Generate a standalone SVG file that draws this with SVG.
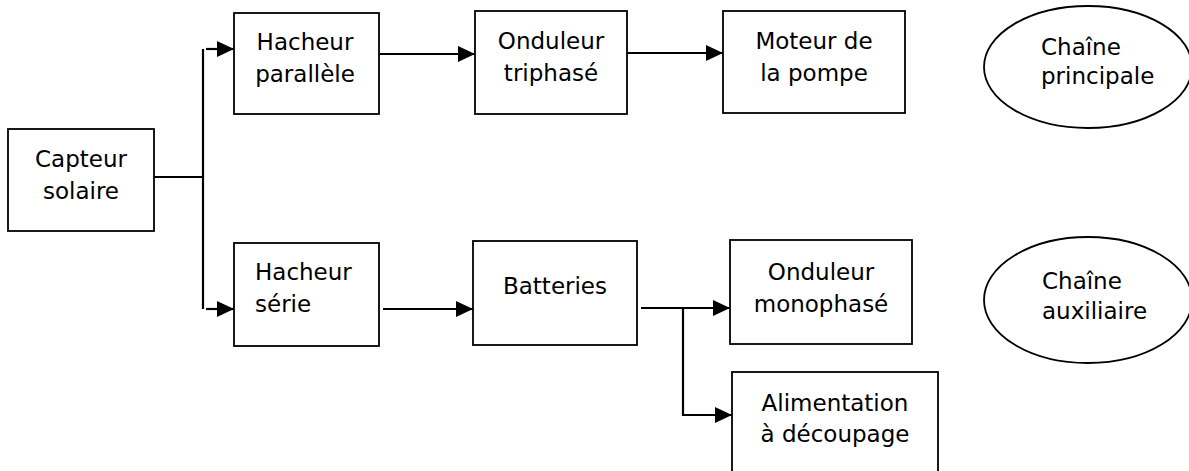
<svg xmlns="http://www.w3.org/2000/svg" width="1189" height="471" viewBox="0 0 1189 471">
<defs>
<style>
.box{fill:#fff;stroke:#000;stroke-width:1.8}
.ell{fill:#fff;stroke:#000;stroke-width:1.8}
.t{font-family:"DejaVu Sans","Verdana",sans-serif;font-size:23px;fill:#000}
.c{text-anchor:middle}
.ln{fill:none;stroke:#000;stroke-width:2.2}
</style>
<marker id="arr" markerUnits="userSpaceOnUse" markerWidth="18" markerHeight="17" refX="17" refY="8" orient="auto">
<path d="M0,0 L17,8 L0,16 z" fill="#000"/>
</marker>
</defs>
<rect width="1189" height="471" fill="#fff"/>
<g id="connectors">
<path class="ln" d="M154,177 H203"/>
<path class="ln" d="M203,49 V309"/>
<path class="ln" d="M206,49 H234" marker-end="url(#arr)"/>
<path class="ln" d="M206,309 H234" marker-end="url(#arr)"/>
<path class="ln" d="M379,54 H475" marker-end="url(#arr)"/>
<path class="ln" d="M627,53 H723" marker-end="url(#arr)"/>
<path class="ln" d="M383,309 H473" marker-end="url(#arr)"/>
<path class="ln" d="M641,308 H730" marker-end="url(#arr)"/>
<path class="ln" d="M683,308 V415 H732" marker-end="url(#arr)"/>
</g>
<g id="capteur">
<rect class="box" x="8" y="129" width="146" height="102"/>
<text class="t c" x="81" y="167">Capteur</text>
<text class="t c" x="81" y="199">solaire</text>
</g>
<g id="hacheur-parallele">
<rect class="box" x="234" y="13" width="145" height="101"/>
<text class="t c" x="305" y="50">Hacheur</text>
<text class="t c" x="305" y="82">parallèle</text>
</g>
<g id="onduleur-triphase">
<rect class="box" x="475" y="11" width="152" height="103"/>
<text class="t c" x="551" y="49">Onduleur</text>
<text class="t c" x="551" y="81">triphasé</text>
</g>
<g id="moteur">
<rect class="box" x="723" y="11" width="182" height="102"/>
<text class="t c" x="814" y="49">Moteur de</text>
<text class="t c" x="814" y="81">la pompe</text>
</g>
<g id="chaine-principale">
<ellipse class="ell" cx="1088" cy="67" rx="104" ry="61"/>
<text class="t" x="1041" y="55">Chaîne</text>
<text class="t" x="1041" y="84">principale</text>
</g>
<g id="hacheur-serie">
<rect class="box" x="234" y="243" width="145" height="103"/>
<text class="t" x="255" y="280">Hacheur</text>
<text class="t" x="255" y="312">série</text>
</g>
<g id="batteries">
<rect class="box" x="473" y="241" width="164" height="104"/>
<text class="t c" x="555" y="294">Batteries</text>
</g>
<g id="onduleur-monophase">
<rect class="box" x="730" y="240" width="182" height="104"/>
<text class="t c" x="821" y="280">Onduleur</text>
<text class="t c" x="821" y="312">monophasé</text>
</g>
<g id="alimentation">
<rect class="box" x="732" y="372" width="206" height="110"/>
<text class="t c" x="835" y="411">Alimentation</text>
<text class="t c" x="835" y="442">à découpage</text>
</g>
<g id="chaine-auxiliaire">
<ellipse class="ell" cx="1088" cy="300" rx="104" ry="63"/>
<text class="t" x="1042" y="289">Chaîne</text>
<text class="t" x="1042" y="319">auxiliaire</text>
</g>
</svg>
